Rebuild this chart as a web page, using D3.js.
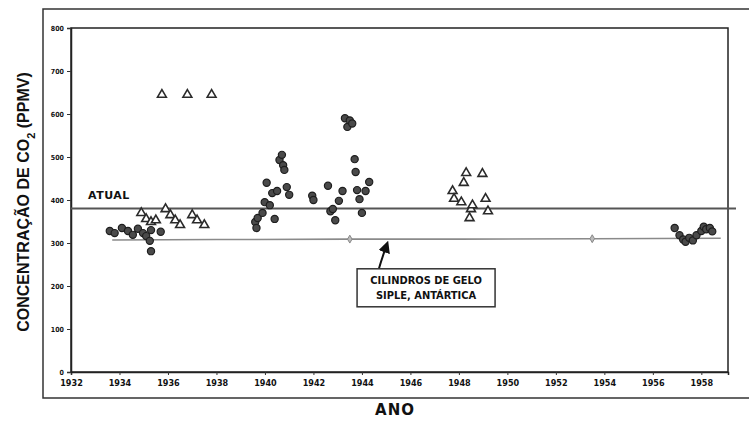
<!DOCTYPE html>
<html>
<head>
<meta charset="utf-8">
<script src="https://cdn.jsdelivr.net/npm/d3@7"></script>
<style>
  body { margin: 0; background: #fff; }
  text { font-family: "DejaVu Sans", sans-serif; font-weight: bold; fill: #111; }
</style>
</head>
<body>
<div id="chart"></div>
<script>
// ticks
const xTicks = [1932, 1934, 1936, 1938, 1940, 1942, 1944, 1946, 1948, 1950, 1952, 1954, 1956, 1958];
const yTicks = [0, 100, 200, 300, 400, 500, 600, 700, 800];

// current level
const atualValue = 380;

// chemical measurements, filled markers [year, ppmv]
const dotYears = [1933.6, 1933.8, 1934.1, 1934.35, 1934.55, 1934.76, 1934.97, 1935.1, 1935.25, 1935.3, 1935.3, 1935.7,
  1939.6, 1939.65, 1939.7, 1939.9, 1939.99, 1940.07, 1940.2, 1940.3, 1940.4, 1940.5, 1940.6, 1940.7, 1940.75, 1940.8, 1940.9, 1941.0,
  1941.95, 1942.0,
  1942.6, 1942.7, 1942.8, 1942.9, 1943.05, 1943.2, 1943.3, 1943.4, 1943.5, 1943.6, 1943.7, 1943.74, 1943.8, 1943.9, 1944.0, 1944.15, 1944.3,
  1956.9, 1957.1, 1957.25, 1957.35, 1957.5, 1957.65, 1957.8, 1958.0, 1958.1, 1958.2, 1958.35, 1958.45];
const dotValues = [328, 323, 335, 328, 319, 333, 323, 316, 305, 330, 281, 326,
  349, 335, 358, 370, 395, 440, 388, 416, 356, 421, 493, 505, 481, 470, 430, 412,
  410, 400,
  433, 374, 379, 353, 398, 421, 590, 570, 585, 578, 495, 465, 423, 402, 370, 421, 442,
  335, 318, 308, 303, 312, 306, 318, 328, 338, 332, 335, 327];

// open triangles [year, ppmv]
const triYears = [1934.9, 1935.1, 1935.3, 1935.5, 1935.9, 1936.1, 1936.3, 1936.5, 1937.0, 1937.2, 1937.5,
  1935.75, 1936.8, 1937.8,
  1947.74, 1947.8, 1948.1, 1948.2, 1948.3, 1948.44, 1948.5, 1948.56, 1948.97, 1949.1, 1949.2];
const triValues = [370, 356, 349, 353, 379, 365, 353, 342, 365, 353, 342,
  645, 645, 645,
  421, 403, 395, 440, 463, 358, 379, 388, 461, 403, 374];

// Siple ice core
const sipleYears = [1933.7, 1938, 1943.5, 1948, 1953.5, 1958.8];
const sipleValues = [307, 308, 309, 309, 310, 311];

const margin = {top: 28, right: 22, bottom: 49, left: 71};
const W = 750, H = 421;
const width = W - margin.left - margin.right;
const height = H - margin.top - margin.bottom;

const svg = d3.select("#chart").append("svg")
  .attr("width", W).attr("height", H);

// outer frame
svg.append("path")
  .attr("d", "M749,9 L43,9 L43,398 L749,398")
  .attr("fill", "none").attr("stroke", "#333").attr("stroke-width", 1.5);

const g = svg.append("g").attr("transform", `translate(${margin.left},${margin.top})`);

const x = d3.scaleLinear().domain([1932, 1959.1]).range([0, width]);
const y = d3.scaleLinear().domain([0, 800]).range([height, 0]);

// plot box
g.append("rect").attr("width", width).attr("height", height)
  .attr("fill", "none").attr("stroke", "#222").attr("stroke-width", 1.5);

const xAxis = g.append("g").attr("transform", `translate(0,${height})`)
  .call(d3.axisBottom(x).tickValues(xTicks).tickFormat(d3.format("d")).tickSize(3).tickPadding(5));
const yAxis = g.append("g")
  .call(d3.axisLeft(y).tickValues(yTicks).tickSize(4).tickPadding(3));
[xAxis, yAxis].forEach(a => {
  a.select(".domain").attr("stroke", "#222").attr("stroke-width", 1.5);
  a.selectAll(".tick line").attr("stroke", "#333");
  a.selectAll("text").style("font-family", "'DejaVu Sans Condensed', sans-serif")
    .style("font-weight", "bold").attr("fill", "#222");
});
xAxis.selectAll("text").style("font-size", "9px");
yAxis.selectAll("text").style("font-size", "7px");

// Siple line
const sipleData = sipleYears.map((d, i) => ({year: d, value: sipleValues[i]}));
g.append("path").datum(sipleData)
  .attr("fill", "none").attr("stroke", "#8a8a8a").attr("stroke-width", 1.6)
  .attr("d", d3.line().x(d => x(d.year)).y(d => y(d.value)));
g.selectAll(".siple").data(sipleData.filter(d => d.year === 1943.5 || d.year === 1953.5)).enter()
  .append("path").attr("class", "siple")
  .attr("transform", d => `translate(${x(d.year)},${y(d.value)})`)
  .attr("d", d3.symbol(d3.symbolDiamond, 18))
  .attr("fill", "#bbb").attr("stroke", "#888");

// current level line
g.append("line")
  .attr("x1", 0).attr("x2", width + 8)
  .attr("y1", y(atualValue)).attr("y2", y(atualValue))
  .attr("stroke", "#555").attr("stroke-width", 2);
g.append("text")
  .attr("x", x(1932.7)).attr("y", y(atualValue) - 10)
  .style("font-size", "11px").style("letter-spacing", "0.5px")
  .text("ATUAL");

// measurements
const dotData = dotYears.map((d, i) => ({year: d, value: dotValues[i]}));
g.selectAll(".dot").data(dotData).enter()
  .append("circle").attr("class", "dot")
  .attr("cx", d => x(d.year)).attr("cy", d => y(d.value)).attr("r", 3.6)
  .attr("fill", "#4a4a4a").attr("stroke", "#1e1e1e").attr("stroke-width", 1.2);

const triData = triYears.map((d, i) => ({year: d, value: triValues[i]}));
g.selectAll(".tri").data(triData).enter()
  .append("path").attr("class", "tri")
  .attr("transform", d => `translate(${x(d.year)},${y(d.value)})`)
  .attr("d", d3.symbol(d3.symbolTriangle, 34))
  .attr("fill", "#fff").attr("stroke", "#2a2a2a").attr("stroke-width", 1.6);

// annotation
svg.append("defs").append("marker")
  .attr("id", "arrow").attr("viewBox", "0 0 10 10")
  .attr("refX", 5).attr("refY", 5).attr("markerWidth", 6).attr("markerHeight", 6)
  .attr("orient", "auto")
  .append("path").attr("d", "M0,0 L10,5 L0,10 Z").attr("fill", "#111");
g.append("path")
  .attr("d", `M${x(1944.7)},${y(240)} Q${x(1944.8)},${y(260)} ${x(1945.0)},${y(292)}`)
  .attr("fill", "none").attr("stroke", "#111").attr("stroke-width", 2)
  .attr("marker-end", "url(#arrow)");
const boxX = x(1943.8), boxY = y(240), boxW = 138, boxH = 38;
g.append("rect").attr("x", boxX).attr("y", boxY).attr("width", boxW).attr("height", boxH)
  .attr("fill", "#fff").attr("stroke", "#333").attr("stroke-width", 1.5);
g.append("text").attr("x", boxX + boxW / 2).attr("y", boxY + 15)
  .attr("text-anchor", "middle").style("font-size", "11px")
  .style("font-family", "'DejaVu Sans Condensed', sans-serif")
  .text("CILINDROS DE GELO");
g.append("text").attr("x", boxX + boxW / 2).attr("y", boxY + 30)
  .attr("text-anchor", "middle").style("font-size", "11px")
  .style("font-family", "'DejaVu Sans Condensed', sans-serif")
  .text("SIPLE, ANTÁRTICA");

// axis titles
svg.append("text")
  .attr("transform", `translate(29,${margin.top + height / 2 + 2}) rotate(-90)`)
  .attr("text-anchor", "middle")
  .style("font-family", "'Liberation Sans Narrow', sans-serif")
  .style("font-size", "16px")
  .html("CONCENTRAÇÃO DE CO<tspan baseline-shift='sub' font-size='11px'>2</tspan> (PPMV)");
svg.append("text")
  .attr("x", 395).attr("y", 415)
  .attr("text-anchor", "middle")
  .style("font-size", "15px").style("letter-spacing", "1px")
  .text("ANO");
</script>
</body>
</html>
